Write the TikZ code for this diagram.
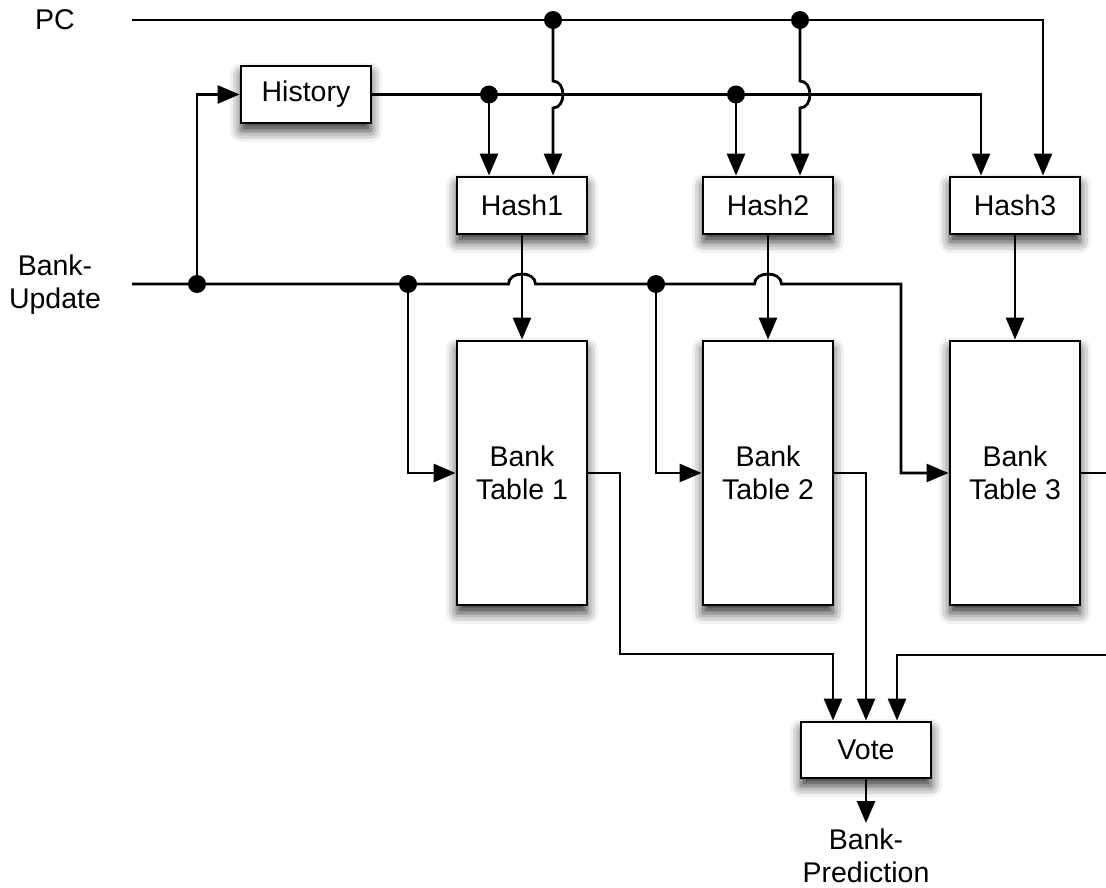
\documentclass[tikz,border=0pt]{standalone}
\usepackage{fontspec}
\setmainfont{Liberation Sans}
\usetikzlibrary{arrows.meta,shadows.blur}

\tikzset{
  wire/.style={line width=2.8pt, line join=miter},
  arr/.style={wire, -{Triangle[length=22pt,width=18pt]}},
  blockbox/.style={draw, line width=2.9pt, fill=white, inner sep=0pt,
    minimum width=130pt, align=center,
    blur shadow={shadow xshift=0pt, shadow yshift=-8pt,
      shadow blur radius=11pt, shadow opacity=80}},
  smallbox/.style={blockbox, minimum height=57pt},
  tablebox/.style={blockbox, minimum height=264pt},
  lbl/.style={inner sep=0pt, align=center},
  junction/.style={circle, fill=black, inner sep=0pt, minimum size=18pt},
}

\begin{document}
\begin{tikzpicture}[x=1pt, y=-1pt, font=\fontsize{28.5}{33}\selectfont]
  \useasboundingbox (0,0) rectangle (1106,888);
  \clip (0,0) rectangle (1106,888);

  % input labels
  \node[lbl] (pclbl) at (55,20) {PC};
  \node[lbl] (bulbl) at (55,285) {Bank-\\Update};
  \coordinate (pcstart) at (132,20);
  \coordinate (bustart) at (132,284);

  % blocks
  \node[smallbox] (history) at (306,94.5) {History};
  \node[smallbox] (hash1) at (522,205.5) {Hash1};
  \node[smallbox] (hash2) at (768,205.5) {Hash2};
  \node[smallbox] (hash3) at (1015,205.5) {Hash3};
  \node[tablebox] (table1) at (522,473) {Bank\\Table 1};
  \node[tablebox] (table2) at (768,473) {Bank\\Table 2};
  \node[tablebox] (table3) at (1015,473) {Bank\\Table 3};
  \node[smallbox, minimum height=56pt] (vote) at (866,750) {Vote};
  \node[lbl, anchor=north] (pred) at (866,829) {Bank-\\Prediction};
  \coordinate (predtip) at (866,823);

  % branch points
  \coordinate (pcd1) at (553,20);
  \coordinate (pcd2) at (800,20);
  \coordinate (pcend) at (1043,20);
  \coordinate (hd1) at (489,94.5);
  \coordinate (hd2) at (736,94.5);
  \coordinate (hend) at (981,94.5);
  \coordinate (bd0) at (197,284);
  \coordinate (bd1) at (408,284);
  \coordinate (bd2) at (656,284);
  \coordinate (bend) at (901,284);

  % PC bus
  \draw[arr] (pcstart) -- (pcend) -- (pcend |- hash3.north);
  % history bus
  \draw[arr] (history.east) -- (hend) -- (hend |- hash3.north);
  \draw[arr] (bd0) |- (history.west);

  % hash inputs from the history bus
  \draw[arr] (hd1) -- (hd1 |- hash1.north);
  \draw[arr] (hd2) -- (hd2 |- hash2.north);

  % hash inputs from the PC bus, hopping over the history bus
  \draw[arr] (pcd1) -- (553,81)
    .. controls (566.3,81) and (566.3,108) .. (553,108)
    -- (pcd1 |- hash1.north);
  \draw[arr] (pcd2) -- (800,81)
    .. controls (813.3,81) and (813.3,108) .. (800,108)
    -- (pcd2 |- hash2.north);

  % bank-update bus, hopping over the hash outputs
  \draw[arr] (bustart) -- (508.5,284)
    .. controls (508.5,270.7) and (535.5,270.7) .. (535.5,284)
    -- (754.5,284)
    .. controls (754.5,270.7) and (781.5,270.7) .. (781.5,284)
    -- (bend) |- (table3.west);
  \draw[arr] (bd1) |- (table1.west);
  \draw[arr] (bd2) |- (table2.west);

  % hashes index the tables
  \draw[arr] (hash1.south) -- (table1.north);
  \draw[arr] (hash2.south) -- (table2.north);
  \draw[arr] (hash3.south) -- (table3.north);

  % table outputs to the voter
  \coordinate (v1) at (833,654);
  \coordinate (v2) at (866,473);
  \coordinate (v3) at (897,655);
  \draw[arr] (table1.east) -- (620,473) -- (620,654) -- (v1) -- (v1 |- vote.north);
  \draw[arr] (table2.east) -- (v2) -- (v2 |- vote.north);
  \draw[wire] (table3.east) -- (1130,473);
  \draw[arr] (1130,655) -- (v3) -- (v3 |- vote.north);

  % prediction out
  \draw[arr] (vote.south) -- (predtip);

  % junction dots
  \foreach \p in {pcd1,pcd2,hd1,hd2,bd0,bd1,bd2}
    \node[junction] at (\p) {};
\end{tikzpicture}
\end{document}
